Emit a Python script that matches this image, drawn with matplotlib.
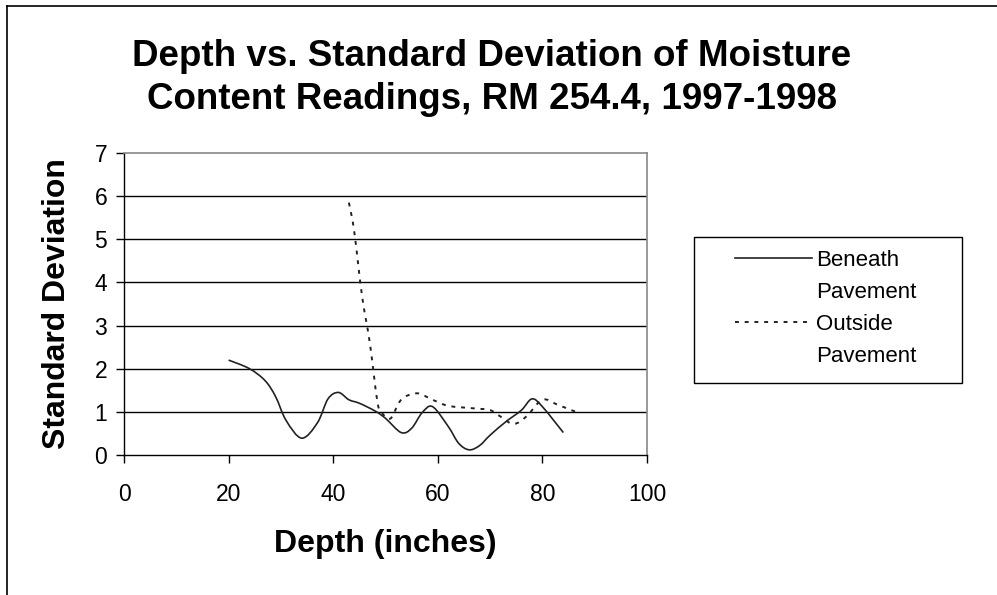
import numpy as np
import matplotlib
matplotlib.use('Agg')
import matplotlib.pyplot as plt
from matplotlib.path import Path
from matplotlib.patches import PathPatch, Rectangle
from matplotlib.lines import Line2D

plt.rcParams['font.family'] = ['Liberation Sans', 'DejaVu Sans']

# depth (inches) and standard deviation
beneath_depth = [20, 24, 27, 29, 31, 34, 37, 39, 41, 43, 45, 48, 50, 53, 55, 57,
                 59, 62, 64, 66, 68, 70, 73, 76, 78, 80, 84]
beneath_sd = [2.2, 2.0, 1.72, 1.35, 0.8, 0.39, 0.75, 1.3, 1.45, 1.28, 1.2, 1.02,
              0.85, 0.52, 0.62, 0.98, 1.12, 0.66, 0.27, 0.12, 0.22, 0.46, 0.77,
              1.04, 1.3, 1.12, 0.52]

outside_depth = [43, 44, 45.5, 47, 48.5, 49.5, 51, 53, 56, 59, 62, 67, 70, 72,
                 74.5, 77, 80, 83, 87]
outside_sd = [5.85, 5.2, 3.7, 2.6, 1.2, 0.95, 0.85, 1.28, 1.43, 1.28, 1.14, 1.08,
              1.04, 0.89, 0.72, 0.9, 1.28, 1.16, 0.97]

x_ticks = [0, 20, 40, 60, 80, 100]
y_ticks = [0, 1, 2, 3, 4, 5, 6, 7]


def smooth_path(x, y):
    # excel-style smoothed line: cubic bezier through every point
    p = np.column_stack([x, y]).astype(float)
    n = len(p)
    verts = [p[0]]
    codes = [Path.MOVETO]
    for i in range(n - 1):
        p0 = p[i - 1] if i > 0 else p[i]
        p3 = p[i + 2] if i + 2 < n else p[i + 1]
        c1 = p[i] + (p[i + 1] - p0) / 6.0
        c2 = p[i + 1] - (p3 - p[i]) / 6.0
        verts += [c1, c2, p[i + 1]]
        codes += [Path.CURVE4] * 3
    return Path(verts, codes)


fig = plt.figure(figsize=(9.97, 5.95), dpi=100)
ax = fig.add_axes([124 / 997, 1 - 455 / 595, (647 - 124) / 997, (455 - 153) / 595])

solid = PathPatch(smooth_path(beneath_depth, beneath_sd), fill=False,
                  edgecolor='#222222', lw=1.2, zorder=3)
dashed = PathPatch(smooth_path(outside_depth, outside_sd), fill=False,
                   edgecolor='#222222', lw=1.4, linestyle=(0, (2, 3)), zorder=3)
ax.add_patch(solid)
ax.add_patch(dashed)

ax.set_xlim(0, 100)
ax.set_ylim(0, 7)
ax.set_xticks(x_ticks)
ax.set_yticks(y_ticks)
ax.tick_params(labelsize=16.5, direction='out', length=6, width=1, pad=14)
ax.tick_params(axis='y', pad=6)
for y in y_ticks[1:-1]:
    ax.axhline(y, color='black', lw=1, zorder=1)
for s in ['top', 'right']:
    ax.spines[s].set_color('#888888')
    ax.spines[s].set_linewidth(1.2)
for s in ['left', 'bottom']:
    ax.spines[s].set_color('black')
    ax.spines[s].set_linewidth(1)

ax.set_xlabel('Depth (inches)', fontsize=23, fontweight='bold', labelpad=17)
ax.set_ylabel('Standard Deviation', fontsize=23, fontweight='bold', labelpad=16)

fig.text(492 / 997, 1 - 78 / 595,
         'Depth vs. Standard Deviation of Moisture\nContent Readings, RM 254.4, 1997-1998',
         ha='center', va='center', fontsize=26.5, fontweight='bold', linespacing=1.27)

# legend box, then entries with the line aligned to the first text row
fig.add_artist(Rectangle((694 / 997, 1 - 383 / 595), (962 - 694) / 997, (383 - 237) / 595,
                         transform=fig.transFigure, fill=False, edgecolor='black', lw=1))
blank = Line2D([], [], color='none')
h1 = Line2D([], [], color='#222222', lw=1.2)
h2 = Line2D([], [], color='#222222', lw=1.4, linestyle=(0, (2, 3)))
leg = fig.legend([h1, blank, h2, blank], ['Beneath', 'Pavement', 'Outside', 'Pavement'],
                 loc='upper left', bbox_to_anchor=(735 / 997, 1 - 250 / 595),
                 frameon=False, fontsize=16, handlelength=3.45,
                 handletextpad=0.2, labelspacing=0.5, borderpad=0, borderaxespad=0)

# outer chart border (left and top visible)
fig.add_artist(Line2D([7 / 997, 7 / 997], [0, 1 - 6 / 595], color='black', lw=1.2,
                      transform=fig.transFigure))
fig.add_artist(Line2D([7 / 997, 1], [1 - 6 / 595, 1 - 6 / 595], color='black', lw=1.2,
                      transform=fig.transFigure))

fig.savefig('out.png', dpi=100)
